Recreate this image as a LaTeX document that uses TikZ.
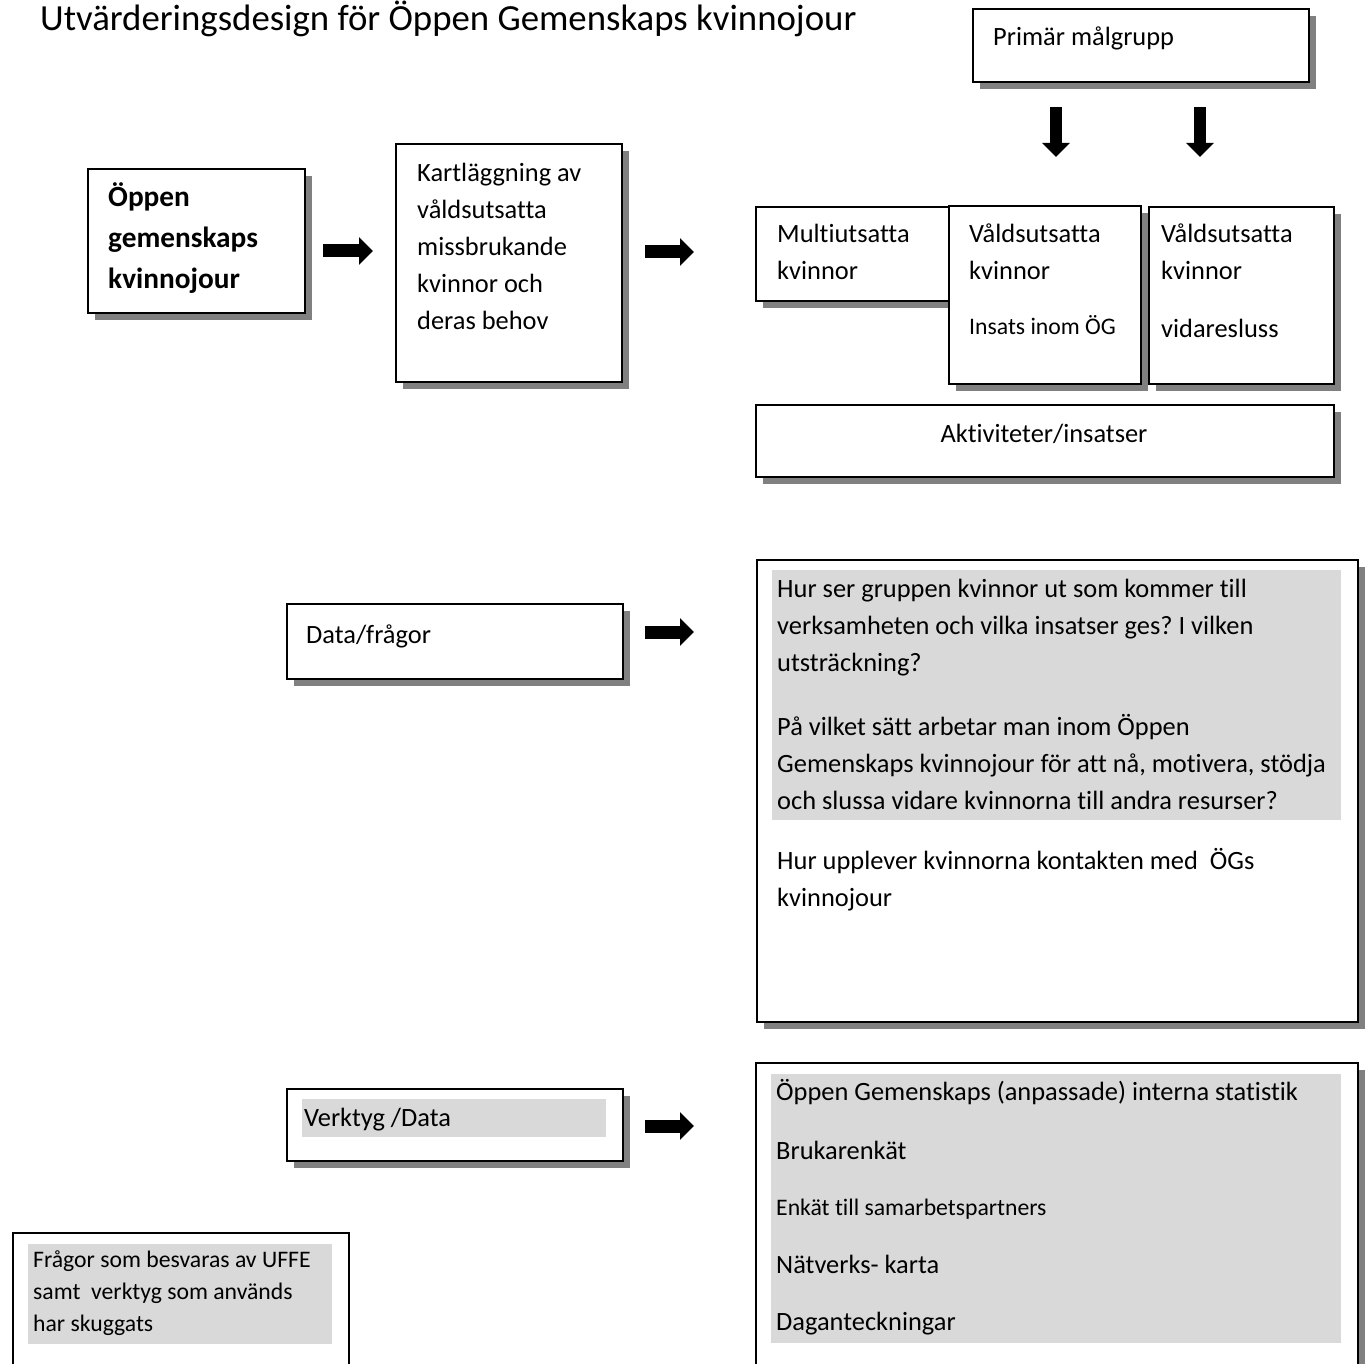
\documentclass[tikz,border=0pt]{standalone}
\usepackage{fontspec}
\setmainfont{Carlito}[Ligatures=NoCommon]
\usetikzlibrary{shadows,arrows.meta}
\definecolor{shadowgray}{HTML}{808080}
\definecolor{shadegray}{HTML}{D9D9D9}
\frenchspacing
\newcommand\mystack[1]{\begin{tabular}[t]{@{}l@{}}#1\end{tabular}}
\tikzset{
  box/.style={draw=black, line width=1.6pt, fill=white, rectangle, inner sep=0pt, anchor=north west},
  sbox/.style={box, drop shadow={shadow xshift=7pt, shadow yshift=-7pt, fill=shadowgray, opacity=1}},
  txt/.style={anchor=base west, inner sep=0pt, font=\frenchspacing\fontsize{26.4}{37}\selectfont},
  smalltxt/.style={anchor=base west, inner sep=0pt, font=\frenchspacing\fontsize{23.7}{32}\selectfont},
  boldtxt/.style={anchor=base west, inner sep=0pt, font=\bfseries\fontsize{29.3}{41}\selectfont},
  blockarrow/.style={line width=13pt, -{Triangle[width=27pt,length=14pt]}},
}
\begin{document}
\begin{tikzpicture}[x=1pt,y=-1pt]
\useasboundingbox (0,0) rectangle (1366,1364);
\fill[white] (0,0) rectangle (1366,1364);

% title
\node[anchor=base west, inner sep=0pt, font=\fontsize{36.8}{40}\selectfont] (title) at (40,31) {Utvärderingsdesign för Öppen Gemenskaps kvinnojour};

% top row
\node[sbox, minimum width=217pt, minimum height=144pt] (og) at (87,168) {};
\node[boldtxt] (ogt) at (108,207) {\mystack{Öppen\\gemenskaps\\kvinnojour}};

\node[sbox, minimum width=226pt, minimum height=238pt] (kart) at (395,143) {};
\node[txt] (kartt) at (417,182) {\mystack{Kartläggning av\\våldsutsatta\\missbrukande\\kvinnor och\\deras behov}};

\node[sbox, minimum width=336pt, minimum height=73pt] (prim) at (972,8) {};
\node[txt] (primt) at (993,46) {Primär målgrupp};

\node[sbox, minimum width=200pt, minimum height=94pt] (multi) at (755,206) {};
\node[txt] (multit) at (777,243) {\mystack{Multiutsatta\\kvinnor}};

\node[sbox, minimum width=192pt, minimum height=178pt] (vald1) at (948,205) {};
\node[txt] (vald1t) at (969,243) {\mystack{Våldsutsatta\\kvinnor}};
\node[smalltxt] (vald1s) at (969,335) {Insats inom ÖG};

\node[sbox, minimum width=185pt, minimum height=177pt] (vald2) at (1148,206) {};
\node[txt] (vald2t) at (1161,243) {\mystack{Våldsutsatta\\kvinnor}};
\node[txt] (vald2s) at (1161,338) {vidaresluss};

\node[sbox, minimum width=578pt, minimum height=72pt] (akt) at (755,404) {};
\node[anchor=base, inner sep=0pt, font=\fontsize{26.4}{37}\selectfont] (aktt) at (1044,442) {Aktiviteter/insatser};

% middle row
\node[sbox, minimum width=336pt, minimum height=75pt] (data) at (286,603) {};
\node[txt] (datat) at (306,643) {Data/frågor};

\node[sbox, minimum width=601pt, minimum height=462pt] (fr) at (756,559) {};
\fill[shadegray] (772,570) rectangle (1341,820);
\node[txt] (fr1) at (777,597) {\mystack{Hur ser gruppen kvinnor ut som kommer till\\verksamheten och vilka insatser ges? I vilken\\utsträckning?}};
\node[txt] (fr2) at (777,735) {\mystack{På vilket sätt arbetar man inom Öppen\\Gemenskaps kvinnojour för att nå, motivera, stödja\\och slussa vidare kvinnorna till andra resurser?}};
\node[txt] (fr3) at (777,869) {\mystack{Hur upplever kvinnorna kontakten med\ \ ÖGs\\kvinnojour}};

% bottom row
\node[sbox, minimum width=336pt, minimum height=72pt] (verk) at (286,1088) {};
\fill[shadegray] (302,1099) rectangle (606,1137);
\node[txt] (verkt) at (304,1126) {Verktyg /Data};

\node[sbox, minimum width=602pt, minimum height=400pt] (tools) at (755,1062) {};
\fill[shadegray] (771,1074) rectangle (1341,1343);
\node[txt] (to1) at (776,1100) {Öppen Gemenskaps (anpassade) interna statistik};
\node[txt] (to2) at (776,1159) {Brukarenkät};
\node[smalltxt] (to3) at (776,1215) {Enkät till samarbetspartners};
\node[txt] (to4) at (776,1273) {Nätverks- karta};
\node[txt] (to5) at (776,1330) {Daganteckningar};

% legend
\node[box, minimum width=336pt, minimum height=200pt] (leg) at (12,1232) {};
\fill[shadegray] (28,1244) rectangle (332,1344);
\node[smalltxt] (legt) at (33,1267) {\mystack{Frågor som besvaras av UFFE\\samt\ \ verktyg som används\\har skuggats}};

% arrows
\coordinate (a1s) at (323,251); \coordinate (a1e) at (373,251);
\coordinate (a2s) at (645,252); \coordinate (a2e) at (694,252);
\coordinate (a3s) at (645,632); \coordinate (a3e) at (694,632);
\coordinate (a4s) at (645,1126); \coordinate (a4e) at (694,1126);
\coordinate (d1s) at (1056,107); \coordinate (d1e) at (1056,157);
\coordinate (d2s) at (1200,107); \coordinate (d2e) at (1200,157);
\draw[blockarrow] (a1s) -- (a1e);
\draw[blockarrow] (a2s) -- (a2e);
\draw[blockarrow] (a3s) -- (a3e);
\draw[blockarrow] (a4s) -- (a4e);
\draw[blockarrow, line width=12pt] (d1s) -- (d1e);
\draw[blockarrow, line width=12pt] (d2s) -- (d2e);
\end{tikzpicture}
\end{document}
